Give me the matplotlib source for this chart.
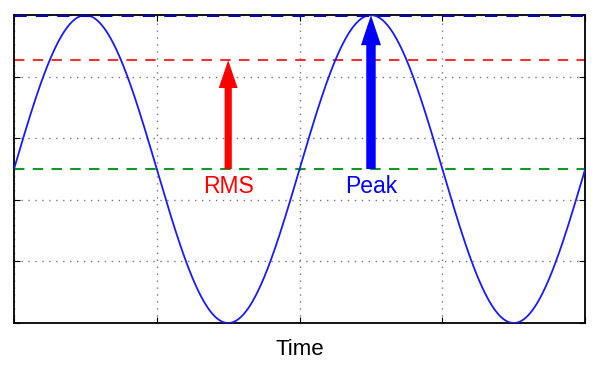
import numpy as np
import matplotlib.pyplot as plt
from matplotlib.patches import FancyArrowPatch

plt.rcParams['font.family'] = ['Liberation Sans', 'DejaVu Sans']

# Daten
perioden = 2.0
amplitude = 1.0
rms = amplitude / np.sqrt(2)
x_rms_pfeil = 0.75
x_peak_pfeil = 1.25
x_ticks = [0.0, 0.5, 1.0, 1.5, 2.0]
y_ticks = [-1.0, -0.6, -0.2, 0.2, 0.6, 1.0]


def main():
    t = np.linspace(0.0, perioden, 1000)
    y = amplitude * np.sin(2 * np.pi * t)

    fig = plt.figure(figsize=(6.0, 3.7), dpi=100)
    ax = fig.add_axes([0.0233, 0.127, 0.952, 0.832])

    ax.plot(t, y, color='#1a1aff', lw=1.3, zorder=3)

    ax.axhline(amplitude, color='#0000cc', lw=2.2, ls=(0, (4, 3)), zorder=4)
    ax.axhline(rms, color='#ee3333', lw=1.5, ls=(0, (5, 4)), zorder=2)
    ax.axhline(0.0, color='#119922', lw=1.5, ls=(0, (5, 4)), zorder=2)

    # Pfeile
    rot = FancyArrowPatch((x_rms_pfeil, 0.0), (x_rms_pfeil, rms),
                          arrowstyle='simple,head_width=0.68,head_length=1.0,tail_width=0.26',
                          mutation_scale=20, color='red', lw=0, zorder=5,
                          shrinkA=0, shrinkB=0)
    ax.add_patch(rot)
    blau = FancyArrowPatch((x_peak_pfeil, 0.0), (x_peak_pfeil, amplitude),
                           arrowstyle='simple,head_width=0.72,head_length=1.08,tail_width=0.34',
                           mutation_scale=20, color='blue', lw=0, zorder=5,
                           shrinkA=0, shrinkB=0)
    ax.add_patch(blau)

    ax.text(x_rms_pfeil, -0.04, 'RMS', color='red', fontsize=16.5,
            ha='center', va='top')
    ax.text(x_peak_pfeil, -0.04, 'Peak', color='blue', fontsize=16.5,
            ha='center', va='top')

    ax.set_xlim(0.0, perioden)
    ax.set_ylim(-amplitude, amplitude)
    ax.set_xticks(x_ticks)
    ax.set_yticks(y_ticks)
    ax.set_xticklabels([])
    ax.set_yticklabels([])
    ax.tick_params(direction='in', length=4, width=0.8, top=True, right=True)
    ax.grid(True, color='#777777', ls=(0, (1, 4)), lw=1.0)
    for s in ax.spines.values():
        s.set_linewidth(1.3)

    ax.set_xlabel('Time', fontsize=16, labelpad=8)

    fig.savefig('out.png', dpi=100)


if __name__ == "__main__":
    main()
